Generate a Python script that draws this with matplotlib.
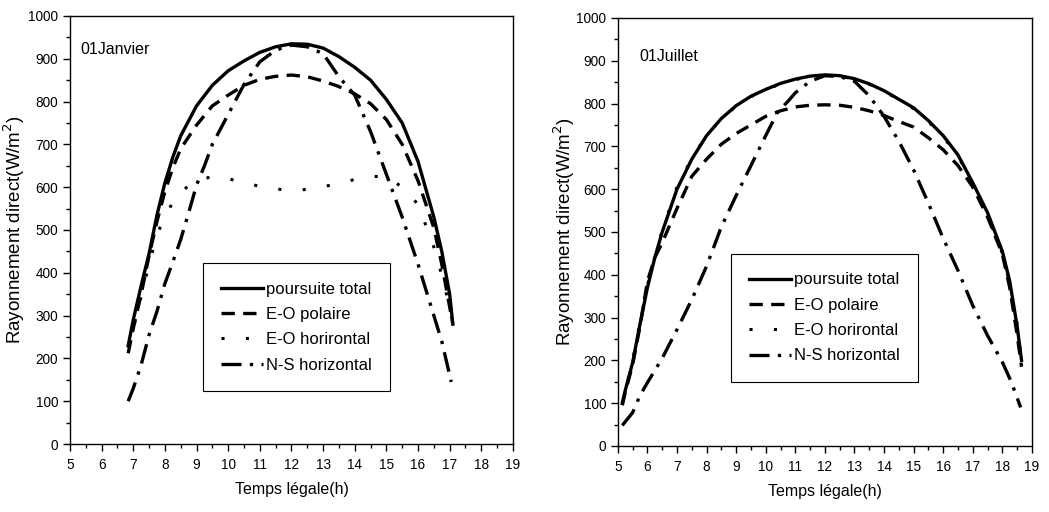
import matplotlib
matplotlib.use("Agg")
import matplotlib.pyplot as plt
from matplotlib.ticker import MultipleLocator

plt.rcParams['font.family'] = ['Liberation Sans', 'DejaVu Sans']

# 01 Janvier
jan_h = [6.84, 7.0, 7.25, 7.5, 7.75, 8.0, 8.25, 8.5, 9.0, 9.5, 10.0, 10.5, 11.0, 11.5,
         12.0, 12.5, 13.0, 13.5, 14.0, 14.5, 15.0, 15.5, 16.0, 16.5, 16.75, 17.0, 17.1]
jan_total = [230, 290, 370, 445, 535, 610, 670, 720, 790, 838, 872, 895, 915, 928,
             935, 934, 925, 905, 880, 850, 805, 750, 660, 530, 450, 350, 280]
jan_polaire = [212, 270, 350, 440, 520, 590, 645, 690, 745, 790, 815, 838, 852, 859,
               862, 858, 848, 835, 818, 795, 758, 700, 615, 505, 420, 320, 280]
jan_horiz = [225, 270, 345, 420, 490, 530, 565, 590, 615, 625, 620, 610, 602, 596,
             592, 595, 601, 609, 618, 625, 625, 600, 560, 460, 395, 320, 280]
jan_ns_h = [6.84, 7.0, 7.25, 7.5, 7.75, 8.0, 8.25, 8.5, 8.75, 9.0, 9.25, 9.5, 10.0, 10.5,
            11.0, 11.5, 12.0, 12.5, 13.0, 13.5, 14.0, 14.5, 15.0, 15.5, 16.0, 16.5, 16.75, 17.05]
jan_ns = [100, 130, 185, 255, 310, 375, 425, 478, 540, 605, 650, 700, 770, 840,
          893, 920, 932, 928, 912, 858, 815, 730, 630, 530, 420, 300, 240, 145]

# 01 Juillet
jul_h = [5.15, 5.25, 5.5, 5.75, 6.0, 6.25, 6.5, 7.0, 7.5, 8.0, 8.5, 9.0, 9.5, 10.0, 10.5,
         11.0, 11.5, 12.0, 12.5, 13.0, 13.5, 14.0, 14.5, 15.0, 15.5, 16.0, 16.5, 17.0,
         17.5, 18.0, 18.25, 18.5, 18.65]
jul_total = [100, 130, 195, 285, 370, 440, 500, 600, 670, 725, 765, 795, 817, 833, 847,
             857, 864, 867, 865, 858, 846, 830, 810, 790, 760, 725, 680, 615,
             545, 455, 385, 280, 200]
jul_polaire = [95, 125, 190, 280, 385, 440, 475, 555, 630, 670, 705, 730, 750, 770, 783,
               792, 796, 797, 796, 791, 783, 772, 758, 745, 720, 692, 655, 605,
               535, 448, 370, 260, 185]
jul_horiz = [100, 128, 200, 290, 375, 442, 503, 605, 672, 726, 764, 794, 816, 832, 846,
             856, 863, 866, 864, 857, 845, 829, 809, 788, 758, 722, 678, 612,
             540, 450, 380, 285, 195]
jul_ns_h = [5.15, 5.5, 5.75, 6.0, 6.5, 7.0, 7.5, 8.0, 8.5, 9.0, 9.5, 10.0, 10.4, 10.75,
            11.0, 11.5, 12.0, 12.5, 13.0, 13.5, 14.0, 14.5, 15.0, 15.5, 16.0, 16.5, 17.0,
            17.5, 18.0, 18.3, 18.62]
jul_ns = [48, 78, 118, 148, 205, 272, 342, 420, 512, 585, 655, 725, 780, 805,
          825, 852, 865, 863, 852, 818, 770, 712, 645, 567, 485, 410, 328,
          258, 196, 150, 90]

labels = ['poursuite total', 'E-O polaire', 'E-O horirontal', 'N-S horizontal']


def draw(ax, h, total, polaire, horiz, ns_h, ns, title, leg_pos, title_pos, ylab_x):
    ax.plot(h, total, color='black', lw=2.4, label=labels[0])
    ax.plot(h, polaire, color='black', lw=2.4, dashes=(4, 2.5), label=labels[1])
    ax.plot(h, horiz, color='black', lw=2.2, dashes=(1, 7), label=labels[2])
    ax.plot(ns_h, ns, color='black', lw=2.4, dashes=(6, 2.5, 1, 2.5), label=labels[3])

    ax.set_xlim(5, 19)
    ax.set_ylim(0, 1000)
    ax.xaxis.set_major_locator(MultipleLocator(1))
    ax.xaxis.set_minor_locator(MultipleLocator(0.5))
    ax.yaxis.set_major_locator(MultipleLocator(100))
    ax.yaxis.set_minor_locator(MultipleLocator(50))
    ax.tick_params(which='major', direction='out', length=5, width=1, labelsize=9.8,
                   top=False, right=False)
    ax.tick_params(axis='x', which='major', pad=5)
    ax.tick_params(which='minor', direction='out', length=3, width=1, top=False, right=False)
    for s in ax.spines.values():
        s.set_linewidth(1)

    ax.set_xlabel('Temps légale(h)', fontsize=11.5)
    ax.set_ylabel('Rayonnement direct(W/m$^2$)', fontsize=13.5)
    ax.xaxis.set_label_coords(0.5, -0.088)
    ax.yaxis.set_label_coords(ylab_x, 0.5)

    ax.text(title_pos[0], title_pos[1], title, transform=ax.transAxes, fontsize=11.5,
            va='baseline', ha='left')

    leg = ax.legend(loc='lower left', bbox_to_anchor=leg_pos, fontsize=12,
                    frameon=True, fancybox=False, edgecolor='black', framealpha=1,
                    handlelength=2.5, handletextpad=0.2, borderpad=1.1,
                    labelspacing=0.62, borderaxespad=0)
    leg.get_frame().set_linewidth(0.8)


fig = plt.figure(figsize=(10.49, 5.12), dpi=100)
ax1 = fig.add_axes([0.0667, 0.1328, 0.4223, 0.836])
ax2 = fig.add_axes([0.589, 0.129, 0.3947, 0.836])

draw(ax1, jan_h, jan_total, jan_polaire, jan_horiz, jan_ns_h, jan_ns,
     '01Janvier', (0.300, 0.124), (0.023, 0.91), -0.097)
draw(ax2, jul_h, jul_total, jul_polaire, jul_horiz, jul_ns_h, jul_ns,
     '01Juillet', (0.273, 0.150), (0.051, 0.90), -0.099)

fig.savefig('out.png', dpi=100)
